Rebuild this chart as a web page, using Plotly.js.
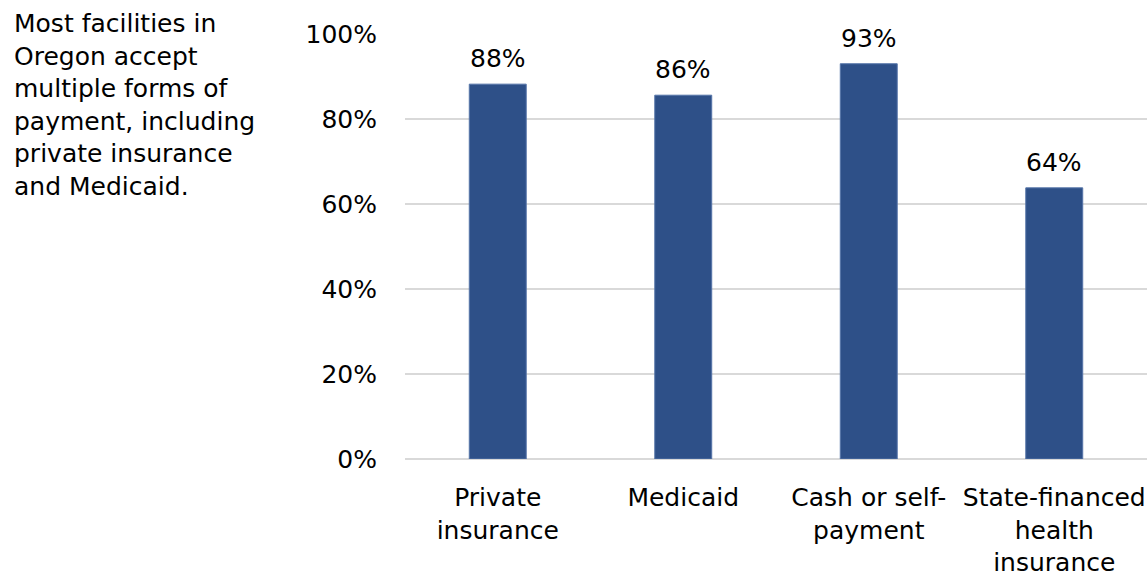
<!DOCTYPE html>
<html>
<head>
<meta charset="utf-8">
<script src="https://cdn.plot.ly/plotly-3.0.1.min.js"></script>
<style>html,body{margin:0;padding:0;background:#fff;}#chart{width:1147px;height:576px;}</style>
</head>
<body>
<div id="chart"></div>
<script>
const categories = ["Private<br>insurance", "Medicaid", "Cash or self-<br>payment", "State-financed<br>health<br>insurance"];
const values = [88.2, 85.6, 93.0, 63.8];
const yTickVals = [0, 20, 40, 60, 80, 100];
const yTickText = ["0%", "20%", "40%", "60%", "80%", "100%"];
const sideNote = "Most facilities in<br>Oregon accept<br>multiple forms of<br>payment, including<br>private insurance<br>and Medicaid.";

const FONT = "DejaVu Sans, Liberation Sans, Arial, sans-serif";

const labelAnnotations = categories.map((c, i) => ({
  x: c, y: values[i], xref: "x", yref: "y",
  text: Math.round(values[i]) + "%",
  showarrow: false, xanchor: "center", yanchor: "bottom", yshift: 9,
  font: {family: FONT, size: 25, color: "#000"}
}));

const data = [{
  type: "bar",
  x: categories,
  y: values,
  marker: {color: "#2E5088", line: {color: "#5574a8", width: 1}},
  hoverinfo: "none"
}];

const layout = {
  width: 1147, height: 576,
  margin: {l: 405, r: 0, t: 34, b: 117, pad: 0},
  paper_bgcolor: "#fff", plot_bgcolor: "#fff",
  showlegend: false,
  bargap: 0.693,
  font: {family: FONT, size: 25, color: "#000"},
  xaxis: {
    type: "category",
    tickvals: categories, ticktext: categories,
    showgrid: false, showline: false, zeroline: false,
    ticks: "outside", ticklen: 0, tickcolor: "#fff",
    ticklabelstandoff: 16,
    tickfont: {family: FONT, size: 25, color: "#000"},
    fixedrange: true
  },
  yaxis: {
    range: [0, 100],
    tickvals: yTickVals, ticktext: yTickText,
    showgrid: true, gridcolor: "#d9d9d9", gridwidth: 1.5,
    zeroline: true, zerolinecolor: "#d9d9d9", zerolinewidth: 1.5,
    showline: false,
    ticks: "outside", ticklen: 0, tickcolor: "#fff",
    ticklabelstandoff: 22,
    tickfont: {family: FONT, size: 25, color: "#000"},
    fixedrange: true
  },
  annotations: labelAnnotations.concat([{
    xref: "paper", yref: "paper",
    x: -0.5296, y: 1.0636, xanchor: "left", yanchor: "top", align: "left",
    showarrow: false, text: sideNote,
    font: {family: FONT, size: 25, color: "#000"}
  }])
};

Plotly.newPlot("chart", data, layout, {displayModeBar: false, staticPlot: true});
</script>
</body>
</html>
